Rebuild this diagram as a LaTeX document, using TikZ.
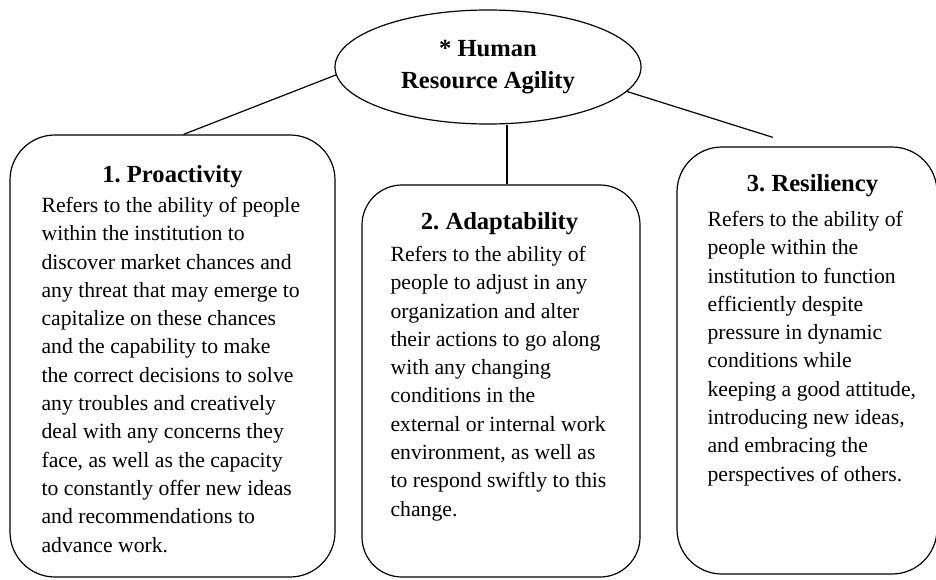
\documentclass[tikz,border=0pt]{standalone}
\usepackage{fontspec}
\setmainfont{Liberation Serif}
\frenchspacing
\usetikzlibrary{calc,shapes,positioning}
\tikzstyle{agility} = [ellipse, draw, line width=1.2pt, minimum width=306pt,
    minimum height=114pt, inner sep=0pt, align=center,
    font=\fontsize{24.6}{32}\selectfont\bfseries]
\tikzstyle{panel} = [rectangle, draw, line width=1.2pt, rounded corners=45pt, inner sep=0pt]
\tikzstyle{heading} = [anchor=base, inner sep=0pt, font=\fontsize{24.6}{30}\selectfont\bfseries]
\tikzstyle{body} = [anchor=base west, inner sep=0pt, font=\fontsize{21.7}{28.3}\selectfont]
\tikzstyle{line} = [draw, line width=1.2pt]
\newcommand{\bodytext}[1]{\parbox[t]{300pt}{\raggedright #1}}

\begin{document}
\begin{tikzpicture}[x=1pt, y=-1pt]
\useasboundingbox (0,0) rectangle (936,579);
\node[agility] (HR_agility) at (488,67) {* Human\\Resource Agility};
%Boxes:
\node[panel, minimum width=325pt, minimum height=442pt] (P_box) at (172.5,356) {};
\node[panel, minimum width=278pt, minimum height=392pt, rounded corners=40pt] (A_box) at (501,381) {};
\node[panel, minimum width=260pt, minimum height=427pt] (R_box) at (807,360.5) {};
%Titles:
\node[heading] (P_title) at ($(P_box.north)+(0,48)$) {1. Proactivity};
\node[heading] (A_title) at ($(A_box.north)+(-1.5,45)$) {2. Adaptability};
\node[heading] (R_title) at ($(R_box.north)+(5.5,45)$) {3. Resiliency};
%Texts:
\node[body] (P_text) at ($(P_box.north west)+(32,78)$) {\bodytext{Refers to the ability of people\\
within the institution to\\
discover market chances and\\
any threat that may emerge to\\
capitalize on these chances\\
and the capability to make\\
the correct decisions to solve\\
any troubles and creatively\\
deal with any concerns they\\
face, as well as the capacity\\
to constantly offer new ideas\\
and recommendations to\\
advance work.}};
\node[body] (A_text) at ($(A_box.north west)+(29,77)$) {\bodytext{Refers to the ability of\\
people to adjust in any\\
organization and alter\\
their actions to go along\\
with any changing\\
conditions in the\\
external or internal work\\
environment, as well as\\
to respond swiftly to this\\
change.}};
\node[body] (R_text) at ($(R_box.north west)+(31,80)$) {\bodytext{Refers to the ability of\\
people within the\\
institution to function\\
efficiently despite\\
pressure in dynamic\\
conditions while\\
keeping a good attitude,\\
introducing new ideas,\\
and embracing the\\
perspectives of others.}};
%Connectors:
\coordinate (P_tip) at ($(P_box.north)+(11,0)$);
\coordinate (A_tip) at ($(A_box.north)+(6,0)$);
\coordinate (R_tip) at ($(R_box.north)+(-34,-9)$);
\path (HR_agility.183) edge[line] (P_tip);
\path (A_tip |- HR_agility.south) edge[line] (A_tip);
\path (HR_agility.350) edge[line] (R_tip);
\end{tikzpicture}
\end{document}
